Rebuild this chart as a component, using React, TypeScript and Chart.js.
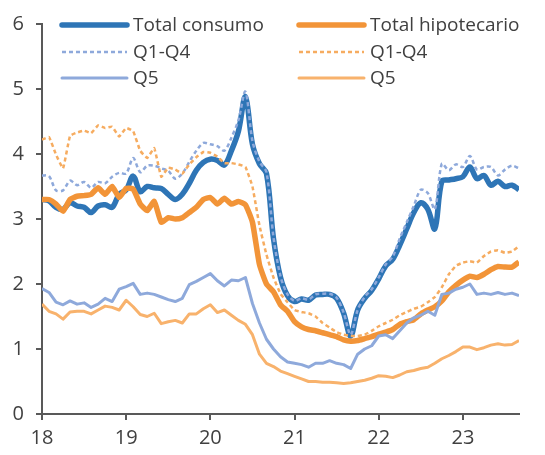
import React, { useEffect, useRef } from "react";
import { Chart, registerables } from "chart.js";

Chart.register(...registerables);

// Monthly observations, Jan 2018 (index 0) to Sep 2023 (index 68)
const totalConsumo = [
  3.3, 3.28, 3.18, 3.15, 3.25, 3.2, 3.18, 3.1, 3.2, 3.22, 3.18, 3.38,
  3.45, 3.66, 3.42, 3.5, 3.48, 3.47, 3.38, 3.3, 3.38, 3.55, 3.75, 3.87,
  3.92, 3.9, 3.83, 4.05, 4.35, 4.88, 4.15, 3.85, 3.7, 2.7, 2.1, 1.82,
  1.73, 1.77, 1.75, 1.83, 1.84, 1.84, 1.78, 1.55, 1.2, 1.6, 1.78, 1.9,
  2.08, 2.28, 2.38, 2.6, 2.85, 3.1, 3.25, 3.15, 2.85, 3.58, 3.6, 3.62,
  3.65, 3.8, 3.62, 3.67, 3.52, 3.58, 3.5, 3.52, 3.45,
];
const q14Consumo = [
  3.67, 3.66, 3.44, 3.44, 3.59, 3.52, 3.57, 3.48, 3.57, 3.55, 3.65, 3.71,
  3.7, 3.94, 3.72, 3.82, 3.82, 3.78, 3.74, 3.62, 3.7, 3.88, 4.05, 4.17,
  4.15, 4.12, 4.05, 4.25, 4.52, 4.96, 4.2, 3.88, 3.72, 2.72, 2.12, 1.84,
  1.74, 1.78, 1.76, 1.84, 1.85, 1.85, 1.79, 1.56, 1.22, 1.6, 1.8, 1.92,
  2.1, 2.3, 2.42, 2.7, 2.95, 3.2, 3.45, 3.4, 3.15, 3.85, 3.75, 3.84,
  3.8, 3.97, 3.76, 3.8, 3.8, 3.67, 3.76, 3.82, 3.78,
];
const q5Consumo = [
  1.93, 1.87, 1.72, 1.68, 1.74, 1.69, 1.71, 1.64, 1.69, 1.78, 1.73, 1.92,
  1.96, 2.01, 1.84, 1.86, 1.84, 1.8, 1.76, 1.73, 1.78, 1.99, 2.04, 2.1,
  2.16, 2.05, 1.97, 2.06, 2.05, 2.1, 1.7, 1.4, 1.15, 1.0, 0.88, 0.8,
  0.78, 0.76, 0.72, 0.78, 0.78, 0.82, 0.78, 0.76, 0.7, 0.92, 1.0, 1.05,
  1.2, 1.22, 1.16, 1.28, 1.4, 1.48, 1.52, 1.58, 1.52, 1.84, 1.86, 1.92,
  1.95, 2.0, 1.84, 1.86, 1.84, 1.87, 1.84, 1.86, 1.82,
];
const totalHipotecario = [
  3.3, 3.3, 3.23, 3.12, 3.3, 3.35, 3.36, 3.38, 3.48, 3.38, 3.5, 3.33,
  3.47, 3.46, 3.23, 3.13, 3.27, 2.95, 3.02, 3.0, 3.02, 3.1, 3.18, 3.3,
  3.33, 3.23, 3.32, 3.23, 3.27, 3.22, 2.95, 2.3, 2.0, 1.88, 1.68, 1.58,
  1.42, 1.34, 1.3, 1.28, 1.25, 1.22, 1.19, 1.14, 1.12, 1.13, 1.16, 1.19,
  1.23, 1.26, 1.3, 1.38, 1.42, 1.45, 1.54, 1.6, 1.65, 1.74, 1.88, 1.98,
  2.06, 2.12, 2.1, 2.15, 2.22, 2.27, 2.26, 2.26, 2.34,
];
const q14Hipotecario = [
  4.22, 4.26, 3.99, 3.78, 4.28, 4.33, 4.36, 4.32, 4.44, 4.4, 4.42, 4.27,
  4.4, 4.35, 4.05, 3.94, 4.09, 3.65, 3.79, 3.76, 3.7, 3.84, 3.95, 4.03,
  4.02, 3.96, 3.86, 3.86, 3.84, 3.8, 3.5, 2.9, 2.45, 2.1, 1.85, 1.72,
  1.6, 1.57, 1.55, 1.5, 1.4, 1.33, 1.26, 1.22, 1.2, 1.2, 1.22, 1.28,
  1.35, 1.4, 1.45, 1.52, 1.57, 1.62, 1.65, 1.72, 1.8, 1.95, 2.15, 2.28,
  2.33, 2.35, 2.33, 2.43, 2.5, 2.52, 2.48, 2.5, 2.58,
];
const q5Hipotecario = [
  1.69, 1.58, 1.54, 1.46, 1.57, 1.58, 1.58, 1.54, 1.6, 1.66, 1.64, 1.6,
  1.75, 1.65, 1.53, 1.5, 1.55, 1.39, 1.42, 1.44, 1.4, 1.54, 1.54, 1.62,
  1.68, 1.56, 1.6, 1.52, 1.44, 1.38, 1.22, 0.92, 0.78, 0.73, 0.66, 0.62,
  0.58, 0.54, 0.5, 0.5, 0.49, 0.49, 0.48, 0.47, 0.48, 0.5, 0.52, 0.55,
  0.59, 0.58, 0.56, 0.6, 0.65, 0.67, 0.7, 0.72, 0.78, 0.85, 0.9, 0.96,
  1.03, 1.03, 0.99, 1.02, 1.06, 1.08, 1.06, 1.07, 1.13,
];

const yearTickPositions = [0, 12, 24, 36, 48, 60];
const yearTickLabels = ["18", "19", "20", "21", "22", "23"];
const seriesLabels = [
  "Total consumo",
  "Total hipotecario",
  "Q1-Q4",
  "Q1-Q4",
  "Q5",
  "Q5",
];

const DARK_BLUE = "rgb(46,117,182)";
const LIGHT_BLUE = "rgb(142,169,219)";
const ORANGE = "rgb(242,148,56)";
const LIGHT_ORANGE = "rgb(246,172,96)";
const PALE_ORANGE = "rgb(248,178,108)";
const TEXT = "#404040";
const AXIS = "#595959";
const FONT = "'Open Sans', sans-serif";

const toPoints = (arr: number[]) => arr.map((v, i) => ({ x: i, y: v }));

const legendPlugin = {
  id: "inlineLegend",
  afterDraw(chart: any) {
    const ctx = chart.ctx;
    const area = chart.chartArea;
    const ds = chart.data.datasets;
    const rows = [25, 52, 78];
    const cols = [area.left + 20, area.left + 257];
    const lineLen = 65;
    ctx.save();
    ctx.font = `19px ${FONT}`;
    ctx.textBaseline = "middle";
    ctx.fillStyle = TEXT;
    ds.forEach((d: any, i: number) => {
      const col = i % 2;
      const row = Math.floor(i / 2);
      const x = cols[col];
      const y = rows[row];
      ctx.beginPath();
      ctx.strokeStyle = d.borderColor;
      ctx.lineWidth = d.borderWidth;
      ctx.lineCap = d.borderDash && d.borderDash.length ? "butt" : "round";
      ctx.setLineDash(d.borderDash || []);
      ctx.moveTo(x, y);
      ctx.lineTo(x + lineLen, y);
      ctx.stroke();
      ctx.setLineDash([]);
      ctx.fillText(d.label, x + lineLen + 6, y + 1);
    });
    ctx.restore();
  },
};

export default function App() {
  const canvasRef = useRef<HTMLCanvasElement | null>(null);

  useEffect(() => {
    if (!canvasRef.current) return;
    const chart = new Chart(canvasRef.current, {
      type: "line",
      data: {
        datasets: [
          {
            label: seriesLabels[0],
            data: toPoints(totalConsumo),
            borderColor: DARK_BLUE,
            borderWidth: 5.5,
            tension: 0.35,
            order: 6,
          },
          {
            label: seriesLabels[1],
            data: toPoints(totalHipotecario),
            borderColor: ORANGE,
            borderWidth: 5.5,
            tension: 0.15,
            order: 5,
          },
          {
            label: seriesLabels[2],
            data: toPoints(q14Consumo),
            borderColor: LIGHT_BLUE,
            borderWidth: 2.5,
            borderDash: [4, 3],
            tension: 0.3,
            order: 4,
          },
          {
            label: seriesLabels[3],
            data: toPoints(q14Hipotecario),
            borderColor: LIGHT_ORANGE,
            borderWidth: 2.5,
            borderDash: [4, 3],
            tension: 0.1,
            order: 3,
          },
          {
            label: seriesLabels[4],
            data: toPoints(q5Consumo),
            borderColor: LIGHT_BLUE,
            borderWidth: 3,
            tension: 0,
            order: 2,
          },
          {
            label: seriesLabels[5],
            data: toPoints(q5Hipotecario),
            borderColor: PALE_ORANGE,
            borderWidth: 3,
            tension: 0,
            order: 1,
          },
        ] as any,
      },
      options: {
        animation: false,
        responsive: false,
        maintainAspectRatio: false,
        elements: { point: { radius: 0 }, line: { borderJoinStyle: "round" } },
        layout: { padding: { top: 20, right: 26, left: 0, bottom: 0 } },
        plugins: { legend: { display: false }, tooltip: { enabled: false } },
        scales: {
          x: {
            type: "linear",
            min: 0,
            max: 68,
            afterBuildTicks: (scale: any) => {
              scale.ticks = yearTickPositions.map((v) => ({ value: v }));
            },
            afterFit: (scale: any) => {
              scale.height = 41;
            },
            ticks: {
              autoSkip: false,
              maxRotation: 0,
              padding: 6,
              color: TEXT,
              font: { family: FONT, size: 20 },
              callback: (v: any) => {
                const idx = yearTickPositions.indexOf(Number(v));
                return idx >= 0 ? yearTickLabels[idx] : "";
              },
            },
            grid: {
              drawOnChartArea: false,
              drawTicks: true,
              tickLength: 6,
              color: AXIS,
              lineWidth: 2,
            },
            border: { display: true, color: AXIS, width: 2 },
          },
          y: {
            min: 0,
            max: 6,
            afterFit: (scale: any) => {
              scale.width = 42;
            },
            ticks: {
              stepSize: 1,
              padding: 12,
              color: TEXT,
              font: { family: FONT, size: 20 },
            },
            grid: {
              drawOnChartArea: false,
              drawTicks: true,
              tickLength: 6,
              color: AXIS,
              lineWidth: 2,
            },
            border: { display: true, color: AXIS, width: 2 },
          },
        },
      },
      plugins: [legendPlugin],
    });
    return () => chart.destroy();
  }, []);

  return (
    <div style={{ position: "fixed", left: 0, top: 0, width: 545, height: 455, background: "#fff" }}>
      <canvas ref={canvasRef} width={545} height={455} style={{ width: 545, height: 455 }} />
    </div>
  );
}
